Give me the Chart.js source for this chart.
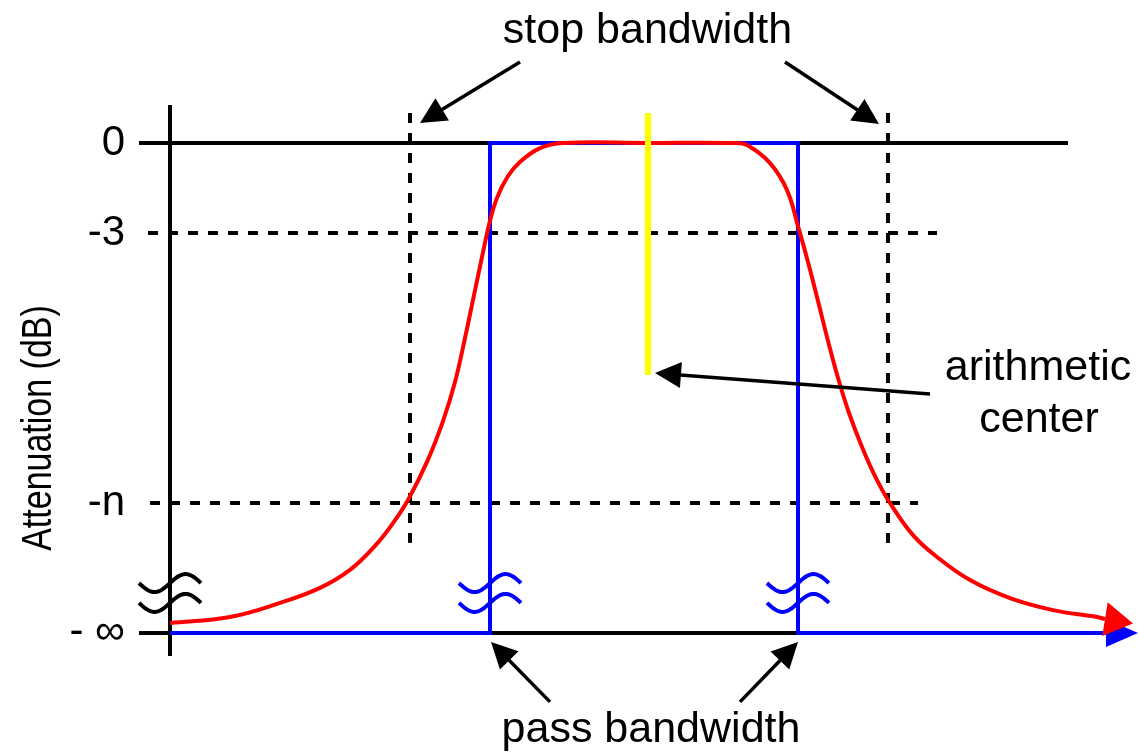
<!DOCTYPE html>
<html>
<head>
<meta charset="utf-8">
<script src="https://cdn.jsdelivr.net/npm/chart.js@4/dist/chart.umd.min.js"></script>
<style>
html,body{margin:0;padding:0;background:#fff;}
#wrap{width:1138px;height:753px;position:relative;}
</style>
</head>
<body>
<div id="wrap"><canvas id="c" width="1138" height="753"></canvas></div>
<script>
// ---- data (x: frequency units, y: attenuation units) ----
const yTickValues = [0, -3, -12, -16.33];
const yTickLabels = ['0', '-3', '-n', '- \u221E'];
const levelTop = 0, level3dB = -3, levelN = -12, levelInf = -16.33;
const passEdges = [32, 62.8];
const stopEdges = [24, 71.8];
const centerFreq = 47.8;
const tickStubX = -3.1;
const topLineEndX = 89.8;
const dash3Range = [-2.2, 76.7];
const dashNRange = [-2.0, 74.8];
const bottomLineEndX = 95.5;
const blueLineEndX = 94;
const stopLineRange = [1.0, -13.33];
const centerLineRange = [1.0, -7.73];
const responseX = [0, 6, 11, 15, 18, 20.5, 22.3, 23.8, 25.7, 27.3, 28.5, 29.5, 30.4, 31.2, 31.9, 32.7, 33.8, 35, 37, 39.3, 47.8, 56.5,
                   57.7, 60, 61.7, 62.8, 63.8, 64.8, 65.8, 66.8, 67.9, 69.2, 70.6, 72, 74.3, 76.7, 80, 84, 88.3, 92.7, 93.5];
const responseY = [-16.0, -15.8, -15.33, -14.83, -14.23, -13.43, -12.67, -11.9, -10.63, -9.27, -7.97, -6.5, -5.07, -3.8, -2.73, -1.83, -1.1, -0.63, -0.17, 0, 0, 0,
                   -0.07, -0.67, -1.57, -2.77, -3.97, -5.27, -6.6, -7.83, -9.0, -10.13, -11.17, -12.0, -13.07, -13.8, -14.57, -15.17, -15.57, -15.8, -15.87];
const responseArrowTip = [96.3, -16.02];
const axisArrowTip = [96.8, -16.33];
const axisArrowBase = [93.6, -16.33];
const breakMarkX = [0, 32, 62.8];
const breakMarkY = [-14.67, -15.33];
const calloutArrows = [
  {from: [35, 2.7], to: [25, 0.67]},
  {from: [61.5, 2.7], to: [70.9, 0.63]},
  {from: [76, -8.37], to: [48.5, -7.67]},
  {from: [38, -18.63], to: [32.1, -16.63]},
  {from: [57, -18.63], to: [62.8, -16.63]}
];
const calloutLabels = [
  {text: 'stop bandwidth', at: [47.75, 3.33]},
  {text: 'pass bandwidth', at: [48.1, -19.97]},
  {text: 'arithmetic', at: [86.8, -7.9]},
  {text: 'center', at: [86.9, -9.63]}
];
const axisTitle = 'Attenuation (dB)';

const FONT = "'Liberation Sans', Arial, sans-serif";
Chart.defaults.font.family = FONT;
Chart.defaults.color = '#000';

const pts = (xs, ys) => xs.map((x, i) => ({x, y: ys[i]}));
const hline = (x0, x1, y) => [{x: x0, y}, {x: x1, y}];
const vline = (x, y0, y1) => [{x, y: y0}, {x, y: y1}];

const base = {pointRadius: 0, fill: false, clip: false, tension: 0};
const datasets = [
  Object.assign({}, base, {label: 'center', data: vline(centerFreq, centerLineRange[0], centerLineRange[1]),
    borderColor: '#ffff00', borderWidth: 6, order: 0}),
  Object.assign({}, base, {label: 'response', data: pts(responseX, responseY),
    borderColor: '#ff0000', borderWidth: 4, tension: 0.4, order: 1}),
  Object.assign({}, base, {label: 'ideal', data: [
      {x: 0, y: levelInf}, {x: passEdges[0], y: levelInf}, {x: passEdges[0], y: levelTop},
      {x: passEdges[1], y: levelTop}, {x: passEdges[1], y: levelInf}, {x: blueLineEndX, y: levelInf}],
    borderColor: '#0000ff', borderWidth: 4, borderJoinStyle: 'miter', order: 2}),
  Object.assign({}, base, {label: 'stopL', data: vline(stopEdges[0], stopLineRange[0], stopLineRange[1]),
    borderColor: '#000', borderWidth: 4, borderDash: [10, 10], order: 3}),
  Object.assign({}, base, {label: 'stopR', data: vline(stopEdges[1], stopLineRange[0], stopLineRange[1]),
    borderColor: '#000', borderWidth: 4, borderDash: [10, 10], order: 3}),
  Object.assign({}, base, {label: 'm3', data: hline(dash3Range[0], dash3Range[1], level3dB),
    borderColor: '#000', borderWidth: 4, borderDash: [10, 10], order: 3}),
  Object.assign({}, base, {label: 'mn', data: hline(dashNRange[0], dashNRange[1], levelN),
    borderColor: '#000', borderWidth: 4, borderDash: [10, 10], order: 3}),
  Object.assign({}, base, {label: 'top', data: hline(tickStubX, topLineEndX, levelTop),
    borderColor: '#000', borderWidth: 4, order: 4}),
  Object.assign({}, base, {label: 'bottom', data: hline(tickStubX, bottomLineEndX, levelInf),
    borderColor: '#000', borderWidth: 4, order: 4})
];

function arrowHead(ctx, bx, by, tx, ty, hw, color) {
  const dx = tx - bx, dy = ty - by, L = Math.hypot(dx, dy);
  const nx = -dy / L, ny = dx / L;
  ctx.fillStyle = color;
  ctx.beginPath();
  ctx.moveTo(tx, ty);
  ctx.lineTo(bx + nx * hw, by + ny * hw);
  ctx.lineTo(bx - nx * hw, by - ny * hw);
  ctx.closePath();
  ctx.fill();
}

const annotationPlugin = {
  id: 'diagramAnnotations',
  afterDatasetsDraw(chart) {
    const {ctx, scales: {x, y}} = chart;
    const px = v => x.getPixelForValue(v), py = v => y.getPixelForValue(v);
    ctx.save();
    // break marks
    breakMarkX.forEach((bxv, i) => {
      const color = i === 0 ? '#000' : '#0000ff';
      breakMarkY.forEach(byv => {
        const cx = px(bxv), cy = py(byv);
        ctx.strokeStyle = color; ctx.lineWidth = 4; ctx.lineCap = 'butt';
        ctx.beginPath();
        for (let t = -31; t <= 31; t += 1) {
          const yy = cy - 9 * Math.sin(Math.PI * t / 31);
          if (t === -31) ctx.moveTo(cx + t, yy); else ctx.lineTo(cx + t, yy);
        }
        ctx.stroke();
      });
    });
    // arrowheads at ends of axis and response
    arrowHead(ctx, px(axisArrowBase[0]), py(axisArrowBase[1]), px(axisArrowTip[0]), py(axisArrowTip[1]), 14, '#0000ff');
    const n = responseX.length;
    arrowHead(ctx, px(responseX[n - 1]), py(responseY[n - 1]), px(responseArrowTip[0]), py(responseArrowTip[1]), 17, '#ff0000');
    // callout arrows
    ctx.strokeStyle = '#000'; ctx.lineWidth = 3.5; ctx.lineCap = 'butt';
    calloutArrows.forEach(a => {
      const x1 = px(a.from[0]), y1 = py(a.from[1]), x2 = px(a.to[0]), y2 = py(a.to[1]);
      const L = Math.hypot(x2 - x1, y2 - y1), ux = (x2 - x1) / L, uy = (y2 - y1) / L;
      const bx = x2 - ux * 26, by = y2 - uy * 26;
      ctx.beginPath(); ctx.moveTo(x1, y1); ctx.lineTo(bx + ux * 4, by + uy * 4); ctx.stroke();
      arrowHead(ctx, bx, by, x2, y2, 13, '#000');
    });
    // labels
    ctx.fillStyle = '#000';
    ctx.font = '43px ' + FONT;
    ctx.textAlign = 'center'; ctx.textBaseline = 'alphabetic';
    calloutLabels.forEach(l => ctx.fillText(l.text, px(l.at[0]), py(l.at[1])));
    // axis title
    ctx.save();
    ctx.translate(51, 428);
    ctx.rotate(-Math.PI / 2);
    ctx.scale(1, 1.25);
    ctx.font = '34px ' + FONT;
    ctx.fillText(axisTitle, 0, 0);
    ctx.restore();
    ctx.restore();
  }
};

new Chart(document.getElementById('c'), {
  type: 'line',
  data: {datasets},
  options: {
    responsive: false,
    animation: false,
    events: [],
    layout: {padding: {left: 0, right: 0, top: 107, bottom: 98}},
    plugins: {legend: {display: false}, tooltip: {enabled: false}},
    scales: {
      x: {type: 'linear', min: 0, max: 96.8, display: false},
      y: {
        type: 'linear', min: -17.067, max: 1.2,
        afterBuildTicks: s => { s.ticks = yTickValues.map(v => ({value: v})); },
        afterFit: s => { s.width = 170; },
        grid: {display: false, drawTicks: false},
        border: {display: true, color: '#000', width: 4},
        ticks: {padding: 45, color: '#000', font: {size: 42}, autoSkip: false,
                callback: (v, i) => yTickLabels[i]}
      }
    }
  },
  plugins: [annotationPlugin]
});
</script>
</body>
</html>
